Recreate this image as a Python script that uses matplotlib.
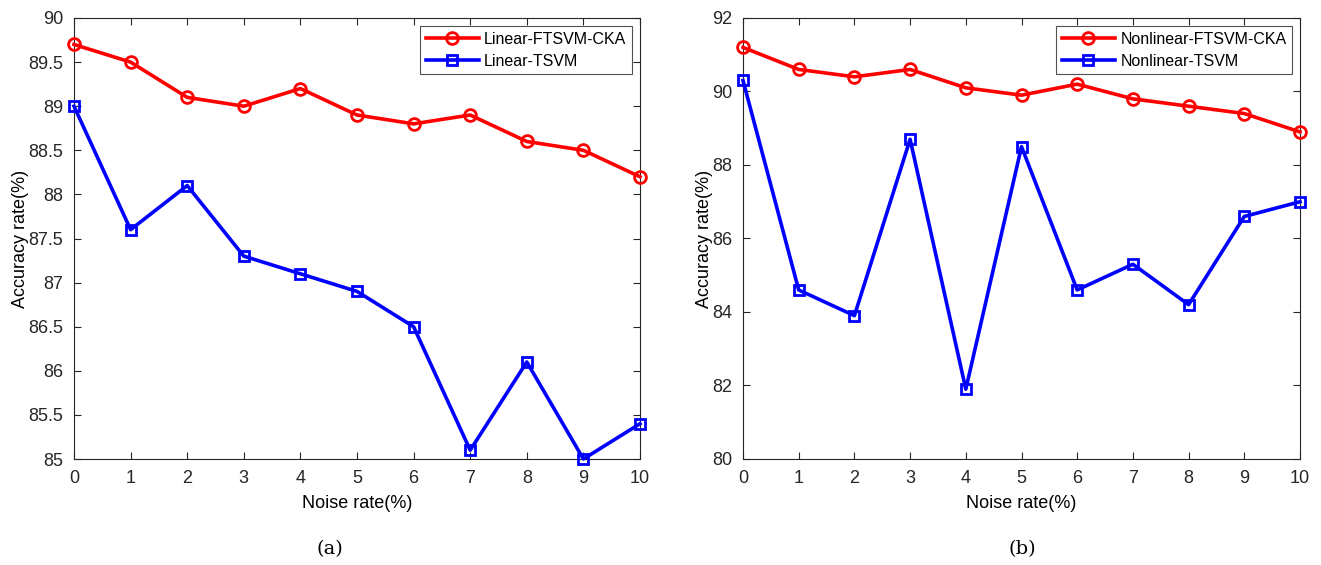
import matplotlib
matplotlib.use("Agg")
import matplotlib.pyplot as plt

noise = [0, 1, 2, 3, 4, 5, 6, 7, 8, 9, 10]
lin_ftsvm = [89.7, 89.5, 89.1, 89.0, 89.2, 88.9, 88.8, 88.9, 88.6, 88.5, 88.2]
lin_tsvm = [89.0, 87.6, 88.1, 87.3, 87.1, 86.9, 86.5, 85.1, 86.1, 85.0, 85.4]
nl_ftsvm = [91.2, 90.6, 90.4, 90.6, 90.1, 89.9, 90.2, 89.8, 89.6, 89.4, 88.9]
nl_tsvm = [90.3, 84.6, 83.9, 88.7, 81.9, 88.5, 84.6, 85.3, 84.2, 86.6, 87.0]

left_yticks = [85, 85.5, 86, 86.5, 87, 87.5, 88, 88.5, 89, 89.5, 90]
left_ylabels = ["85", "85.5", "86", "86.5", "87", "87.5", "88", "88.5", "89", "89.5", "90"]
right_yticks = [80, 82, 84, 86, 88, 90, 92]

plt.rcParams['font.family'] = ['Liberation Sans', 'DejaVu Sans']

fig = plt.figure(figsize=(13.21, 5.65), dpi=100)
W, H = 1321, 565
ax1 = fig.add_axes([74 / W, (565 - 459) / H, (640 - 74) / W, (459 - 18) / H])
ax2 = fig.add_axes([743 / W, (565 - 459) / H, (1300 - 743) / W, (459 - 18) / H])

def style(ax, a, b, la, lb, ylim, yticks, ylabels):
    ax.plot(noise, a, color='#ff0000', lw=2.6, marker='o', ms=8.5, mfc='none',
            mew=2.0, label=la, clip_on=False, zorder=3)
    ax.plot(noise, b, color='#0000ff', lw=2.6, marker='s', ms=7, mfc='none',
            mew=2.0, label=lb, clip_on=False, zorder=3)
    ax.set_xlim(0, 10)
    ax.set_ylim(*ylim)
    ax.set_xticks(noise)
    ax.set_yticks(yticks)
    ax.set_yticklabels(ylabels)
    ax.tick_params(direction='in', top=True, right=True, labelsize=13,
                   length=5, width=0.8, colors='#262626')
    ax.tick_params(axis='x', pad=8)
    ax.tick_params(axis='y', pad=8)
    for s in ax.spines.values():
        s.set_linewidth(0.8)
        s.set_color('#262626')
    ax.set_xlabel('Noise rate(%)', fontsize=13, labelpad=6)
    ax.set_ylabel('Accuracy rate(%)', fontsize=13, labelpad=-1)
    leg = ax.legend(loc='upper right', fontsize=11.5, frameon=True, fancybox=False,
                    edgecolor='#262626', borderaxespad=0.5, handlelength=3.3,
                    handletextpad=0.35, borderpad=0.35, labelspacing=0.45)
    leg.get_frame().set_linewidth(0.8)

style(ax1, lin_ftsvm, lin_tsvm, 'Linear-FTSVM-CKA', 'Linear-TSVM',
      (85, 90), left_yticks, left_ylabels)
style(ax2, nl_ftsvm, nl_tsvm, 'Nonlinear-FTSVM-CKA', 'Nonlinear-TSVM',
      (80, 92), right_yticks, [str(v) for v in right_yticks])

fig.text(330 / W, 1 - 549 / H, '(a)', family='DejaVu Serif', fontsize=14,
         ha='center', va='center')
fig.text(1022 / W, 1 - 549 / H, '(b)', family='DejaVu Serif', fontsize=14,
         ha='center', va='center')

fig.savefig('out.png', dpi=100)
